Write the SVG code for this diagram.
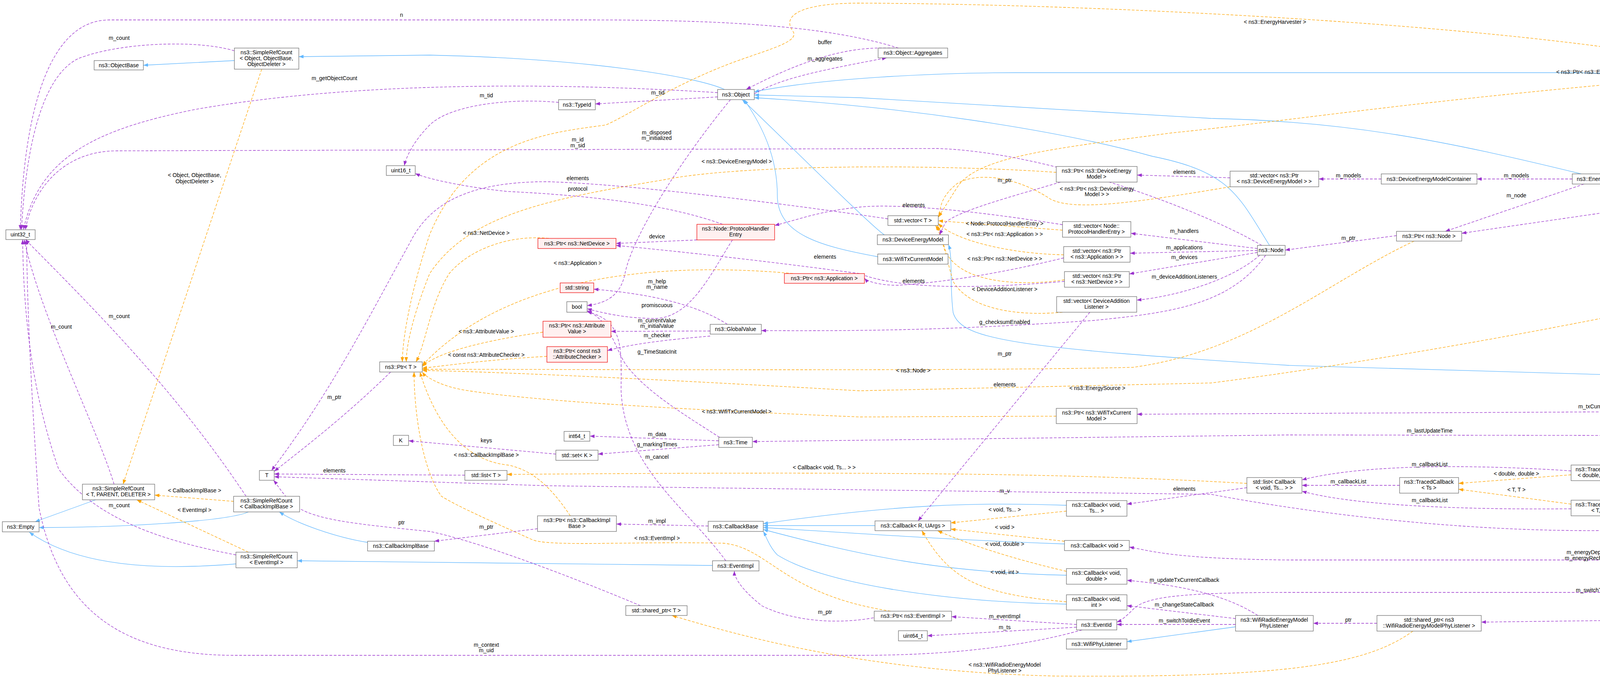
<svg xmlns="http://www.w3.org/2000/svg" width="5725" height="1735" viewBox="0 0 5725 1735">
<style>
text{font-family:"Liberation Sans",Arial,sans-serif;font-size:14px;fill:#000;text-anchor:middle}
.n rect{fill:#fff;stroke:#666;stroke-width:1.2}
.r rect{fill:#fff0f0;stroke:#e00;stroke-width:1.2}
.m rect{fill:#999;stroke:#666;stroke-width:1.2}
#edges path{fill:none;stroke-width:1.3}
#edges .p{stroke:#9a32cd;stroke-dasharray:7,4;marker-end:url(#ap)}
#edges .o{stroke:#ffa500;stroke-dasharray:7,4;marker-end:url(#ao)}
#edges .b{stroke:#63b8ff;marker-end:url(#ab)}
</style>
<defs>
<marker id="ap" markerUnits="userSpaceOnUse" markerWidth="12" markerHeight="9" refX="12" refY="4.5" orient="auto"><path d="M0,0L12,4.5L0,9z" fill="#9a32cd"/></marker>
<marker id="ao" markerUnits="userSpaceOnUse" markerWidth="12" markerHeight="9" refX="12" refY="4.5" orient="auto"><path d="M0,0L12,4.5L0,9z" fill="#ffa500"/></marker>
<marker id="ab" markerUnits="userSpaceOnUse" markerWidth="12" markerHeight="9" refX="12" refY="4.5" orient="auto"><path d="M0,0L12,4.5L0,9z" fill="#63b8ff"/></marker>
</defs>
<rect width="5725" height="1735" fill="#fff"/>
<g id="edges">
<path class="b" d="M600,155L367,167"/>
<path class="b" d="M1855,229C1780,195 1500,150 1100,141L765,145"/>
<path class="b" d="M245,1279L90,1335"/>
<path class="b" d="M636,1310C580,1335 300,1350 100,1350"/>
<path class="b" d="M604,1443C400,1460 200,1450 75,1362"/>
<path class="b" d="M941,1388C860,1375 760,1340 715,1310"/>
<path class="b" d="M1824,1447L761,1435"/>
<path class="b" d="M2264,601C2230,580 1950,300 1900,255"/>
<path class="b" d="M2247,657C2100,630 1990,600 1990,500C1990,400 1950,320 1905,255"/>
<path class="b" d="M4795,416C4650,300 4500,186 4000,186L2600,186C2400,186 2100,200 1931,235"/>
<path class="b" d="M4048,445C3700,360 3450,310 3100,303L2200,250L1931,243"/>
<path class="b" d="M3250,628C3170,500 3150,440 2950,400C2700,330 2300,272 1931,250"/>
<path class="b" d="M5272,1274C5200,1000 4950,973 4600,973L3300,935C2600,890 2460,870 2440,800C2430,720 2440,660 2428,626"/>
<path class="b" d="M3163,1604L2885,1642"/>
<path class="b" d="M2240,1345L1954,1345"/>
<path class="b" d="M2730,1293C2500,1285 2300,1290 1954,1340"/>
<path class="b" d="M2725,1392C2400,1380 2200,1365 1954,1350"/>
<path class="b" d="M2730,1472C2400,1465 2200,1420 1954,1355"/>
<path class="b" d="M2730,1546C2400,1540 2100,1490 1990,1420C1970,1400 1960,1370 1954,1360"/>
<path class="o" d="M670,177L315,1239"/>
<path class="o" d="M598,1283L396,1267"/>
<path class="o" d="M636,1413L350,1279"/>
<path class="o" d="M1405,610C1300,600 1200,640 1150,700C1100,780 1090,880 1065,926"/>
<path class="o" d="M2030,700C1700,670 1300,700 1081,935"/>
<path class="o" d="M1390,850C1250,870 1120,900 1081,938"/>
<path class="o" d="M1400,912C1250,920 1150,935 1081,942"/>
<path class="o" d="M3620,617C3400,720 3200,900 2900,940C2500,950 1500,945 1081,945"/>
<path class="o" d="M4370,758C4100,820 3500,930 3100,980L2200,1000C1500,960 1200,950 1081,948"/>
<path class="o" d="M2704,1065L2200,1067C1800,1050 1400,1030 1200,1000C1130,990 1090,965 1081,952"/>
<path class="o" d="M1460,1320C1400,1230 1350,1200 1300,1190C1200,1180 1120,1100 1075,952"/>
<path class="o" d="M2280,1564C2000,1520 1970,1400 1850,1390C1600,1385 1400,1400 1360,1380C1250,1330 1180,1300 1130,1270C1080,1200 1060,1050 1060,952"/>
<path class="o" d="M2704,441C2400,420 1900,420 1700,460C1400,510 1200,550 1100,700C1060,800 1040,880 1040,926"/>
<path class="o" d="M5155,271C4900,260 4600,210 4300,150C3800,60 2800,10 2200,8C2050,8 2000,40 2030,80C2050,110 1950,130 1850,170C1700,230 1600,300 1550,320C1400,340 1200,360 1100,600C1050,750 1030,870 1030,926"/>
<path class="o" d="M3149,478C2900,520 2750,540 2690,510C2600,450 2500,440 2450,470C2400,510 2410,540 2402,555"/>
<path class="o" d="M2720,589L2402,565"/>
<path class="o" d="M2723,652C2600,650 2450,620 2402,572"/>
<path class="o" d="M2725,716C2600,735 2450,720 2420,640L2400,577"/>
<path class="o" d="M2720,799C2600,810 2480,790 2440,720C2420,650 2410,600 2395,577"/>
<path class="o" d="M5650,190C5550,160 5450,150 5300,150C5000,150 4600,175 4300,200C3600,260 3300,310 3000,340C2700,380 2500,400 2450,480L2402,556"/>
<path class="o" d="M3192,1237C2800,1215 2400,1205 1298,1214"/>
<path class="o" d="M2730,1308L2434,1338"/>
<path class="o" d="M2725,1385L2434,1354"/>
<path class="o" d="M2730,1462C2550,1420 2450,1380 2400,1358"/>
<path class="o" d="M2730,1540C2500,1520 2430,1480 2360,1358"/>
<path class="o" d="M4022,1215L3734,1237"/>
<path class="o" d="M4022,1290L3734,1252"/>
<path class="o" d="M4714,1338L4526,1341"/>
<path class="o" d="M3617,1615C3500,1700 3300,1735 2700,1730C2300,1720 2000,1660 1720,1575"/>
<path class="p" d="M600,130C500,100 300,110 200,150C100,200 65,400 55,588"/>
<path class="p" d="M292,1239C250,1100 100,800 62,613"/>
<path class="p" d="M630,1270C450,1000 250,800 65,613"/>
<path class="p" d="M604,1420C450,1390 250,1340 150,1200C80,1000 60,800 58,613"/>
<path class="p" d="M1837,237C1400,210 900,210 500,280C250,330 100,400 60,588"/>
<path class="p" d="M2300,123C2100,60 1800,51 1500,51L280,51C120,51 60,300 52,588"/>
<path class="p" d="M3230,628C3100,550 2700,390 2400,380L300,386C150,386 80,500 65,588"/>
<path class="p" d="M1837,248L1524,266"/>
<path class="p" d="M1430,262C1300,250 1150,270 1100,320C1060,360 1040,400 1035,424"/>
<path class="p" d="M1850,574C1700,520 1500,500 1300,490C1200,480 1100,460 1063,444"/>
<path class="p" d="M1870,255C1750,400 1620,600 1600,700C1590,750 1560,775 1503,782"/>
<path class="p" d="M1931,240C2000,200 2100,180 2270,148"/>
<path class="p" d="M2290,123C2200,120 2100,130 1910,229"/>
<path class="p" d="M1784,614L1577,623"/>
<path class="p" d="M1875,614C1820,700 1770,810 1680,815C1600,815 1540,800 1503,790"/>
<path class="p" d="M1862,830C1800,790 1700,755 1520,740"/>
<path class="p" d="M1818,847L1564,848"/>
<path class="p" d="M1818,860C1700,870 1620,880 1555,897"/>
<path class="p" d="M3240,653C3150,780 3000,800 2800,820C2500,840 2300,848 1949,846"/>
<path class="p" d="M1840,1128L1510,1116"/>
<path class="p" d="M1840,1138L1531,1162"/>
<path class="p" d="M1842,1119C1750,1060 1650,1000 1600,930C1570,880 1560,820 1503,795"/>
<path class="p" d="M1423,1162L1046,1128"/>
<path class="p" d="M1858,1435C1760,1300 1600,1200 1590,1000C1590,900 1600,820 1503,798"/>
<path class="p" d="M1813,1346L1578,1341"/>
<path class="p" d="M1376,1353L1112,1385"/>
<path class="p" d="M2300,1564C2200,1600 2050,1600 1950,1550C1900,1510 1880,1480 1880,1461"/>
<path class="p" d="M2756,1598L2436,1578"/>
<path class="p" d="M2756,1605L2374,1627"/>
<path class="p" d="M2770,1612C2600,1660 2400,1677 2200,1677L600,1677C300,1677 150,1550 100,1300C80,1000 70,800 68,613"/>
<path class="p" d="M1000,952C900,1050 800,1130 702,1206"/>
<path class="p" d="M2273,560C2000,520 1600,470 1400,465C1200,465 1100,520 1050,620C950,800 850,1000 695,1204"/>
<path class="p" d="M1190,1216L702,1213"/>
<path class="p" d="M4356,1345C4000,1380 3500,1340 3100,1265L1400,1243L702,1220"/>
<path class="p" d="M1640,1550C1400,1450 1200,1380 1100,1360C900,1340 800,1330 750,1290C720,1260 710,1240 700,1229"/>
<path class="p" d="M2715,466C2600,500 2450,540 2420,570L2405,601"/>
<path class="p" d="M3149,455L2911,448"/>
<path class="p" d="M2720,575C2500,540 2300,520 2200,530C2100,540 2050,560 1983,577"/>
<path class="p" d="M2723,660C2600,690 2450,720 2300,730C2250,730 2220,720 2213,712"/>
<path class="p" d="M2725,720C2500,740 2300,740 2200,700C1900,660 1700,640 1577,628"/>
<path class="p" d="M3219,636L2895,597"/>
<path class="p" d="M3219,641L2893,648"/>
<path class="p" d="M3219,646L2891,701"/>
<path class="p" d="M3225,653C3150,720 3000,760 2910,768"/>
<path class="p" d="M2790,799L2350,1333"/>
<path class="p" d="M3575,603L3290,640"/>
<path class="p" d="M4450,733C4380,700 4300,650 4240,560L4110,471"/>
<path class="p" d="M5235,284L4860,416"/>
<path class="p" d="M5540,230L5396,262"/>
<path class="p" d="M3536,458L3376,458"/>
<path class="p" d="M4025,458L3781,458"/>
<path class="p" d="M4055,471L3700,592"/>
<path class="p" d="M4735,443C4500,490 4200,530 3742,597"/>
<path class="p" d="M4160,445C4400,380 4800,280 5000,250C5200,225 5400,215 5512,212"/>
<path class="p" d="M4810,441C4790,550 4720,650 4600,715L4500,733"/>
<path class="p" d="M3192,1248L2885,1290"/>
<path class="p" d="M3583,1242L3333,1242"/>
<path class="p" d="M4022,1205C3800,1190 3500,1185 3333,1228"/>
<path class="p" d="M4022,1302C3700,1305 3450,1290 3333,1257"/>
<path class="p" d="M4356,1335L4172,1311"/>
<path class="p" d="M4714,1328C4600,1300 4400,1270 4172,1230"/>
<path class="p" d="M4720,1324C4700,1300 4690,1290 4680,1286C4600,1270 4520,1255 4474,1238"/>
<path class="p" d="M5260,1274C5150,1060 5000,820 4552,746"/>
<path class="p" d="M5240,1274C5150,1150 5050,1050 4900,1050L2911,1060"/>
<path class="p" d="M5230,1274C5100,1180 4900,1130 4500,1115L3300,1113L1926,1130"/>
<path class="p" d="M5177,1276L4474,1228"/>
<path class="p" d="M5177,1287L4870,1287"/>
<path class="p" d="M5177,1298L4920,1336"/>
<path class="p" d="M5220,1300C5100,1360 5000,1370 4850,1386"/>
<path class="p" d="M5240,1300C5150,1380 5000,1433 4800,1433L3300,1433C3000,1430 2950,1410 2891,1400"/>
<path class="p" d="M5255,1300C5180,1400 5050,1516 4880,1516L3300,1516C3000,1516 2930,1530 2900,1560C2880,1580 2870,1588 2859,1592"/>
<path class="p" d="M5265,1300C5220,1450 5100,1590 4950,1590C4700,1582 4400,1584 3792,1592"/>
<path class="p" d="M3220,1575C3150,1530 3050,1500 2885,1485"/>
<path class="p" d="M3163,1583L2885,1550"/>
<path class="p" d="M3163,1598L2859,1598"/>
<path class="p" d="M3525,1595L3362,1595"/>
</g>
<g id="labels">
<text x="1028" y="43">n</text><text x="305" y="102">m_count</text><text x="856" y="205">m_getObjectCount</text>
<text x="498" y="453">&lt; Object, ObjectBase,</text><text x="498" y="469">ObjectDeleter &gt;</text>
<text x="305" y="814">m_count</text><text x="157" y="841">m_count</text>
<text x="856" y="1021">m_ptr</text><text x="856" y="1209">elements</text><text x="1028" y="1342">ptr</text>
<text x="498" y="1260">&lt; CallbackImplBase &gt;</text><text x="305" y="1298">m_count</text><text x="498" y="1310">&lt; EventImpl &gt;</text>
<text x="2112" y="113">buffer</text><text x="2112" y="155">m_aggregates</text><text x="1245" y="249">m_tid</text><text x="1684" y="242">m_tid</text>
<text x="1681" y="344">m_disposed</text><text x="1681" y="358">m_initialized</text><text x="1479" y="362">m_id</text><text x="1479" y="377">m_sid</text>
<text x="1886" y="418">&lt; ns3::DeviceEnergyModel &gt;</text><text x="1479" y="461">elements</text><text x="1479" y="488">protocol</text>
<text x="1245" y="601">&lt; ns3::NetDevice &gt;</text><text x="1682" y="610">device</text><text x="2112" y="662">elements</text>
<text x="1479" y="678">&lt; ns3::Application &gt;</text><text x="1682" y="725">m_help</text><text x="1682" y="739">m_name</text>
<text x="1682" y="786">promiscuous</text><text x="1682" y="825">m_currentValue</text><text x="1682" y="839">m_initialValue</text>
<text x="1245" y="853">&lt; ns3::AttributeValue &gt;</text><text x="1682" y="863">m_checker</text>
<text x="1245" y="913">&lt; const ns3::AttributeChecker &gt;</text><text x="1682" y="905">g_TimeStaticInit</text>
<text x="1886" y="1058">&lt; ns3::WifiTxCurrentModel &gt;</text><text x="1682" y="1116">m_data</text><text x="1245" y="1132">keys</text>
<text x="1682" y="1142">g_markingTimes</text><text x="1245" y="1169">&lt; ns3::CallbackImplBase &gt;</text><text x="1682" y="1174">m_cancel</text>
<text x="2110" y="1201">&lt; Callback&lt; void, Ts... &gt; &gt;</text><text x="1682" y="1338">m_impl</text><text x="1245" y="1353">m_ptr</text>
<text x="1682" y="1382">&lt; ns3::EventImpl &gt;</text><text x="2112" y="1571">m_ptr</text><text x="1245" y="1655">m_context</text><text x="1245" y="1669">m_uid</text>
<text x="3264" y="61">&lt; ns3::EnergyHarvester &gt;</text><text x="3032" y="445">elements</text><text x="2572" y="466">m_ptr</text>
<text x="2808" y="488">&lt; ns3::Ptr&lt; ns3::DeviceEnergy</text><text x="2808" y="502">Model &gt; &gt;</text>
<text x="2339" y="530">elements</text><text x="2572" y="577">&lt; Node::ProtocolHandlerEntry &gt;</text><text x="3032" y="596">m_handlers</text>
<text x="2572" y="604">&lt; ns3::Ptr&lt; ns3::Application &gt; &gt;</text><text x="3032" y="638">m_applications</text><text x="3032" y="663">m_devices</text>
<text x="2572" y="667">&lt; ns3::Ptr&lt; ns3::NetDevice &gt; &gt;</text><text x="3032" y="713">m_deviceAdditionListeners</text><text x="2339" y="724">elements</text>
<text x="2572" y="745">&lt; DeviceAdditionListener &gt;</text><text x="2572" y="829">g_checksumEnabled</text>
<text x="2572" y="910">m_ptr</text><text x="2338" y="953">&lt; ns3::Node &gt;</text><text x="2572" y="989">elements</text><text x="2809" y="998">&lt; ns3::EnergySource &gt;</text>
<text x="2572" y="1261">m_v</text><text x="3032" y="1256">elements</text><text x="2572" y="1309">&lt; void, Ts... &gt;</text><text x="2572" y="1354">&lt; void &gt;</text>
<text x="2572" y="1397">&lt; void, double &gt;</text><text x="2572" y="1469">&lt; void, int &gt;</text><text x="3032" y="1489">m_updateTxCurrentCallback</text>
<text x="3032" y="1552">m_changeStateCallback</text><text x="2572" y="1582">m_eventImpl</text><text x="3032" y="1593">m_switchToIdleEvent</text><text x="2572" y="1610">m_ts</text>
<text x="2572" y="1706">&lt; ns3::WifiRadioEnergyModel</text><text x="2572" y="1721">PhyListener &gt;</text>
<text x="4100" y="189">&lt; ns3::Ptr&lt; ns3::EnergyHarvester &gt; &gt;</text><text x="3452" y="454">m_models</text><text x="3882" y="454">m_models</text>
<text x="3882" y="505">m_node</text><text x="4279" y="502">m_node</text><text x="3452" y="614">m_ptr</text><text x="4279" y="639">m_ptr</text>
<text x="4098" y="1045">m_txCurrentModel</text><text x="3660" y="1107">m_lastUpdateTime</text><text x="3660" y="1193">m_callbackList</text>
<text x="3882" y="1217">&lt; double, double &gt;</text><text x="3452" y="1237">m_callbackList</text><text x="3882" y="1258">&lt; T, T &gt;</text>
<text x="3660" y="1285">m_callbackList</text><text x="4279" y="1315">m_cb</text><text x="4098" y="1418">m_energyDepletionCallback</text>
<text x="4098" y="1433">m_energyRechargedCallback</text><text x="4098" y="1515">m_switchToOffEvent</text><text x="3452" y="1591">ptr</text>
<text x="5456" y="239">elements</text><text x="4819" y="280">m_harvesters</text><text x="5039" y="318">m_ptr</text><text x="4635" y="629">m_energySource</text><text x="4818" y="770">m_source</text>
<text x="4817" y="1160">m_ccaBusyCurrentA</text><text x="4817" y="1174">m_idleCurrentA</text><text x="4817" y="1189">m_rxCurrentA</text>
<text x="4817" y="1204">m_sleepCurrentA</text><text x="4817" y="1218">m_switchingCurrentA</text><text x="4817" y="1233">m_txCurrentA</text>
<text x="4635" y="1255">m_v</text><text x="4442" y="1265">m_cb</text><text x="5039" y="1282">m_currentState</text><text x="5039" y="1303">m_totalEnergyConsumption</text>
<text x="4635" y="1334">&lt; double &gt;</text><text x="5039" y="1342">m_nPendingChangeState</text><text x="4444" y="1581">m_listener</text>
</g>
<g id="n_wre" class="m"><rect x="5177" y="1274" width="198" height="26"/><text x="5276" y="1292">ns3::WifiRadioEnergyModel</text></g>
<g id="n_dem" class="n"><rect x="2246" y="601" width="182" height="25"/><text x="2337" y="618">ns3::DeviceEnergyModel</text></g>
<g id="n_object" class="n"><rect x="1837" y="229" width="94" height="26"/><text x="1884" y="247">ns3::Object</text></g>
<g id="n_srcobj" class="n"><rect x="600" y="123" width="165" height="54"/><text x="682" y="139">ns3::SimpleRefCount</text><text x="682" y="154">&lt; Object, ObjectBase,</text><text x="682" y="169">ObjectDeleter &gt;</text></g>
<g id="n_objbase" class="n"><rect x="241" y="155" width="126" height="24"/><text x="304" y="172">ns3::ObjectBase</text></g>
<g id="n_srctpd" class="n"><rect x="211" y="1239" width="185" height="40"/><text x="303" y="1255">ns3::SimpleRefCount</text><text x="303" y="1270">&lt; T, PARENT, DELETER &gt;</text></g>
<g id="n_empty" class="n"><rect x="6" y="1335" width="94" height="26"/><text x="53" y="1353">ns3::Empty</text></g>
<g id="n_uint32" class="n"><rect x="15" y="588" width="75" height="25"/><text x="52" y="605">uint32_t</text></g>
<g id="n_typeid" class="n"><rect x="1430" y="255" width="94" height="26"/><text x="1477" y="273">ns3::TypeId</text></g>
<g id="n_uint16" class="n"><rect x="989" y="424" width="74" height="25"/><text x="1026" y="441">uint16_t</text></g>
<g id="n_aggr" class="n"><rect x="2248" y="123" width="178" height="25"/><text x="2337" y="140">ns3::Object::Aggregates</text></g>
<g id="n_bool" class="n"><rect x="1451" y="772" width="52" height="27"/><text x="1477" y="790">bool</text></g>
<g id="n_node" class="n"><rect x="3219" y="628" width="71" height="25"/><text x="3254" y="645">ns3::Node</text></g>
<g id="n_phe" class="r"><rect x="1784" y="574" width="199" height="40"/><text x="1883" y="590">ns3::Node::ProtocolHandler</text><text x="1883" y="605">Entry</text></g>
<g id="n_ptrnd" class="r"><rect x="1377" y="610" width="200" height="26"/><text x="1477" y="628">ns3::Ptr&lt; ns3::NetDevice &gt;</text></g>
<g id="n_ptrapp" class="r"><rect x="2008" y="700" width="205" height="25"/><text x="2110" y="717">ns3::Ptr&lt; ns3::Application &gt;</text></g>
<g id="n_string" class="r"><rect x="1434" y="724" width="86" height="25"/><text x="1477" y="741">std::string</text></g>
<g id="n_ptrav" class="r"><rect x="1390" y="822" width="174" height="41"/><text x="1477" y="838">ns3::Ptr&lt; ns3::Attribute</text><text x="1477" y="853">Value &gt;</text></g>
<g id="n_gv" class="n"><rect x="1818" y="830" width="131" height="25"/><text x="1883" y="847">ns3::GlobalValue</text></g>
<g id="n_ptrac" class="r"><rect x="1400" y="887" width="155" height="40"/><text x="1477" y="903">ns3::Ptr&lt; const ns3</text><text x="1477" y="918">::AttributeChecker &gt;</text></g>
<g id="n_ptrT" class="n"><rect x="972" y="926" width="109" height="26"/><text x="1026" y="944">ns3::Ptr&lt; T &gt;</text></g>
<g id="n_K" class="n"><rect x="1007" y="1114" width="39" height="26"/><text x="1026" y="1132">K</text></g>
<g id="n_T" class="n"><rect x="664" y="1204" width="38" height="25"/><text x="683" y="1221">T</text></g>
<g id="n_int64" class="n"><rect x="1444" y="1104" width="66" height="25"/><text x="1477" y="1121">int64_t</text></g>
<g id="n_time" class="n"><rect x="1840" y="1119" width="86" height="26"/><text x="1883" y="1137">ns3::Time</text></g>
<g id="n_setK" class="n"><rect x="1423" y="1152" width="108" height="26"/><text x="1477" y="1170">std::set&lt; K &gt;</text></g>
<g id="n_listT" class="n"><rect x="1190" y="1204" width="108" height="25"/><text x="1244" y="1221">std::list&lt; T &gt;</text></g>
<g id="n_srccib" class="n"><rect x="598" y="1270" width="169" height="40"/><text x="682" y="1286">ns3::SimpleRefCount</text><text x="682" y="1301">&lt; CallbackImplBase &gt;</text></g>
<g id="n_cib" class="n"><rect x="941" y="1385" width="171" height="25"/><text x="1026" y="1402">ns3::CallbackImplBase</text></g>
<g id="n_srcei" class="n"><rect x="604" y="1413" width="157" height="40"/><text x="682" y="1429">ns3::SimpleRefCount</text><text x="682" y="1444">&lt; EventImpl &gt;</text></g>
<g id="n_ptrcib" class="n"><rect x="1376" y="1320" width="202" height="40"/><text x="1477" y="1336">ns3::Ptr&lt; ns3::CallbackImpl</text><text x="1477" y="1351">Base &gt;</text></g>
<g id="n_cbbase" class="n"><rect x="1813" y="1334" width="141" height="26"/><text x="1883" y="1352">ns3::CallbackBase</text></g>
<g id="n_eventimpl" class="n"><rect x="1824" y="1435" width="119" height="26"/><text x="1883" y="1453">ns3::EventImpl</text></g>
<g id="n_sharedT" class="n"><rect x="1602" y="1550" width="157" height="25"/><text x="1680" y="1567">std::shared_ptr&lt; T &gt;</text></g>
<g id="n_ptrdem" class="n"><rect x="2704" y="426" width="207" height="40"/><text x="2807" y="442">ns3::Ptr&lt; ns3::DeviceEnergy</text><text x="2807" y="457">Model &gt;</text></g>
<g id="n_vecptrdem" class="n"><rect x="3149" y="438" width="227" height="40"/><text x="3262" y="454">std::vector&lt; ns3::Ptr</text><text x="3262" y="469">&lt; ns3::DeviceEnergyModel &gt; &gt;</text></g>
<g id="n_vecT" class="n"><rect x="2273" y="552" width="129" height="25"/><text x="2337" y="569">std::vector&lt; T &gt;</text></g>
<g id="n_wtcm" class="n"><rect x="2247" y="650" width="180" height="26"/><text x="2337" y="668">ns3::WifiTxCurrentModel</text></g>
<g id="n_vecphe" class="n"><rect x="2720" y="567" width="175" height="40"/><text x="2807" y="583">std::vector&lt; Node::</text><text x="2807" y="598">ProtocolHandlerEntry &gt;</text></g>
<g id="n_vecapp" class="n"><rect x="2723" y="631" width="170" height="40"/><text x="2808" y="647">std::vector&lt; ns3::Ptr</text><text x="2808" y="662">&lt; ns3::Application &gt; &gt;</text></g>
<g id="n_vecnd" class="n"><rect x="2725" y="695" width="166" height="40"/><text x="2808" y="711">std::vector&lt; ns3::Ptr</text><text x="2808" y="726">&lt; ns3::NetDevice &gt; &gt;</text></g>
<g id="n_vecdal" class="n"><rect x="2705" y="759" width="205" height="40"/><text x="2807" y="775">std::vector&lt; DeviceAddition</text><text x="2807" y="790">Listener &gt;</text></g>
<g id="n_ptrwtcm" class="n"><rect x="2704" y="1045" width="207" height="39"/><text x="2807" y="1061">ns3::Ptr&lt; ns3::WifiTxCurrent</text><text x="2807" y="1076">Model &gt;</text></g>
<g id="n_listcb" class="n"><rect x="3192" y="1222" width="141" height="40"/><text x="3262" y="1238">std::list&lt; Callback</text><text x="3262" y="1253">&lt; void, Ts... &gt; &gt;</text></g>
<g id="n_cbvts" class="n"><rect x="2730" y="1281" width="155" height="40"/><text x="2807" y="1297">ns3::Callback&lt; void,</text><text x="2807" y="1312">Ts... &gt;</text></g>
<g id="n_cbr" class="n"><rect x="2240" y="1333" width="194" height="25"/><text x="2337" y="1350">ns3::Callback&lt; R, UArgs &gt;</text></g>
<g id="n_cbv" class="n"><rect x="2725" y="1383" width="166" height="26"/><text x="2808" y="1401">ns3::Callback&lt; void &gt;</text></g>
<g id="n_cbvd" class="n"><rect x="2730" y="1455" width="155" height="40"/><text x="2807" y="1471">ns3::Callback&lt; void,</text><text x="2807" y="1486">double &gt;</text></g>
<g id="n_cbvi" class="n"><rect x="2730" y="1522" width="155" height="39"/><text x="2807" y="1538">ns3::Callback&lt; void,</text><text x="2807" y="1553">int &gt;</text></g>
<g id="n_ptrei" class="n"><rect x="2238" y="1564" width="198" height="25"/><text x="2337" y="1581">ns3::Ptr&lt; ns3::EventImpl &gt;</text></g>
<g id="n_eventid" class="n"><rect x="2756" y="1586" width="103" height="26"/><text x="2807" y="1604">ns3::EventId</text></g>
<g id="n_uint64" class="n"><rect x="2300" y="1614" width="74" height="26"/><text x="2337" y="1632">uint64_t</text></g>
<g id="n_wpl" class="n"><rect x="2730" y="1635" width="155" height="26"/><text x="2807" y="1653">ns3::WifiPhyListener</text></g>
<g id="n_wrempl" class="n"><rect x="3163" y="1575" width="199" height="40"/><text x="3262" y="1591">ns3::WifiRadioEnergyModel</text><text x="3262" y="1606">PhyListener</text></g>
<g id="n_demc" class="n"><rect x="3536" y="445" width="245" height="26"/><text x="3658" y="463">ns3::DeviceEnergyModelContainer</text></g>
<g id="n_es" class="n"><rect x="4025" y="445" width="143" height="26"/><text x="4096" y="463">ns3::EnergySource</text></g>
<g id="n_ptrnode" class="n"><rect x="3575" y="592" width="167" height="25"/><text x="3658" y="609">ns3::Ptr&lt; ns3::Node &gt;</text></g>
<g id="n_ptres" class="n"><rect x="4330" y="733" width="222" height="25"/><text x="4441" y="750">ns3::Ptr&lt; ns3::EnergySource &gt;</text></g>
<g id="n_tcts" class="n"><rect x="3583" y="1222" width="151" height="40"/><text x="3658" y="1238">ns3::TracedCallback</text><text x="3658" y="1253">&lt; Ts &gt;</text></g>
<g id="n_tcdd" class="n"><rect x="4022" y="1190" width="150" height="40"/><text x="4097" y="1206">ns3::TracedCallback</text><text x="4097" y="1221">&lt; double, double &gt;</text></g>
<g id="n_tctt" class="n"><rect x="4022" y="1280" width="150" height="40"/><text x="4097" y="1296">ns3::TracedCallback</text><text x="4097" y="1311">&lt; T, T &gt;</text></g>
<g id="n_tvT" class="n"><rect x="4356" y="1332" width="170" height="25"/><text x="4441" y="1349">ns3::TracedValue&lt; T &gt;</text></g>
<g id="n_spwrempl" class="n"><rect x="3525" y="1575" width="267" height="40"/><text x="3658" y="1591">std::shared_ptr&lt; ns3</text><text x="3658" y="1606">::WifiRadioEnergyModelPhyListener &gt;</text></g>
<g id="n_vecpeh" class="n"><rect x="5512" y="190" width="207" height="40"/><text x="5615" y="206">std::vector&lt; ns3::Ptr</text><text x="5615" y="221">&lt; ns3::EnergyHarvester &gt; &gt;</text></g>
<g id="n_ptreh" class="n"><rect x="5155" y="259" width="241" height="25"/><text x="5275" y="276">ns3::Ptr&lt; ns3::EnergyHarvester &gt;</text></g>
<g id="n_eh" class="n"><rect x="4735" y="416" width="164" height="25"/><text x="4817" y="433">ns3::EnergyHarvester</text></g>
<g id="n_double" class="n"><rect x="4408" y="1216" width="66" height="25"/><text x="4441" y="1233">double</text></g>
<g id="n_wps" class="n"><rect x="4765" y="1274" width="105" height="26"/><text x="4817" y="1292">WifiPhyState</text></g>
<g id="n_tvd" class="n"><rect x="4714" y="1324" width="206" height="25"/><text x="4817" y="1341">ns3::TracedValue&lt; double &gt;</text></g>
<g id="n_uint8" class="n"><rect x="4784" y="1373" width="66" height="26"/><text x="4817" y="1391">uint8_t</text></g>
</svg>
